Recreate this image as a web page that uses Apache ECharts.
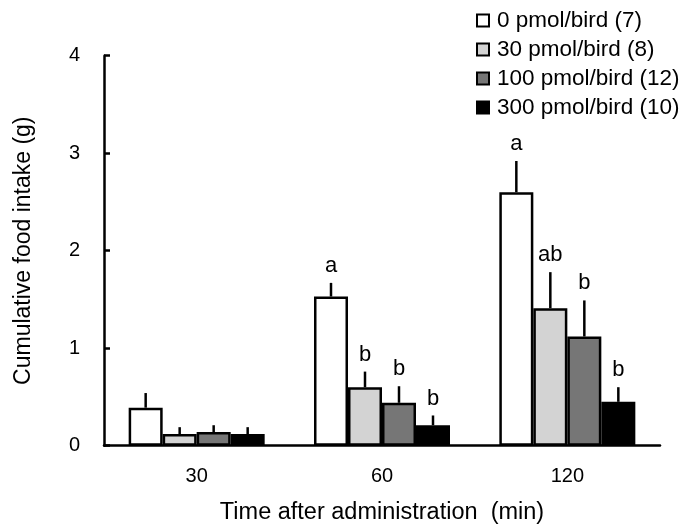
<!DOCTYPE html>
<html>
<head>
<meta charset="utf-8">
<script src="https://cdn.jsdelivr.net/npm/echarts@6/dist/echarts.min.js"></script>
<style>html,body{margin:0;padding:0;background:#fff;}#c{width:692px;height:524px;}</style>
</head>
<body>
<div id="c"></div>
<script>
var categories = ['30', '60', '120'];
var doseNames = ['0 pmol/bird (7)', '30 pmol/bird (8)', '100 pmol/bird (12)', '300 pmol/bird (10)'];
var means0 = [0.39, 1.53, 2.60];
var means30 = [0.12, 0.60, 1.41];
var means100 = [0.14, 0.44, 1.12];
var means300 = [0.12, 0.21, 0.45];
var se0 = [0.15, 0.14, 0.32];
var se30 = [0.07, 0.16, 0.37];
var se100 = [0.07, 0.17, 0.37];
var se300 = [0.07, 0.10, 0.15];
var letters0 = ['', 'a', 'a'];
var letters30 = ['', 'b', 'ab'];
var letters100 = ['', 'b', 'b'];
var letters300 = ['', 'b', 'b'];
var yTicks = [0, 1, 2, 3, 4];

var FONT = 'Liberation Sans, Arial, sans-serif';
var colors = ['#ffffff', '#d3d3d3', '#767676', '#000000'];
var allMeans = [means0, means30, means100, means300];
var allSe = [se0, se30, se100, se300];
var allLetters = [letters0, letters30, letters100, letters300];
var BAR_W = 34;

var series = [];
for (var i = 0; i < 4; i++) {
  series.push({
    type: 'bar',
    name: doseNames[i],
    data: allMeans[i],
    barWidth: BAR_W,
    barGap: '0%',
    itemStyle: { color: colors[i], borderColor: '#000', borderWidth: 2.5 },
    z: 2
  });
}
for (var j = 0; j < 4; j++) {
  (function (k) {
    var d = categories.map(function (c, idx) {
      return [idx, allMeans[k][idx], allMeans[k][idx] + allSe[k][idx]];
    });
    series.push({
      type: 'custom',
      name: 'err' + k,
      data: d,
      z: 3,
      renderItem: function (params, api) {
        var x = api.value(0);
        var base = api.coord([x, api.value(1)]);
        var top = api.coord([x, api.value(2)]);
        var cx = base[0] + (k - 1.5) * BAR_W;
        var letter = allLetters[k][params.dataIndex];
        var children = [{
          type: 'line',
          shape: { x1: cx, y1: base[1], x2: cx, y2: top[1] },
          style: { stroke: '#000', lineWidth: 2.5 }
        }];
        if (letter) {
          children.push({
            type: 'text',
            style: {
              text: letter, x: cx, y: top[1] - 6,
              textAlign: 'center', textVerticalAlign: 'bottom',
              font: '22px ' + FONT, fill: '#000'
            }
          });
        }
        return { type: 'group', children: children };
      }
    });
  })(j);
}

var chart = echarts.init(document.getElementById('c'), null, { renderer: 'canvas' });
chart.setOption({
  animation: false,
  backgroundColor: '#fff',
  textStyle: { fontFamily: FONT },
  grid: { left: 104, right: 32, top: 55.7, bottom: 78.3, containLabel: false, outerBoundsMode: 'none' },
  legend: {
    data: doseNames,
    orient: 'vertical',
    left: 471,
    top: 4,
    itemWidth: 12,
    itemHeight: 12,
    itemGap: 6,
    icon: 'rect',
    textStyle: { fontSize: 22.5, color: '#000', fontFamily: FONT, padding: [0, 0, 0, 3] }
  },
  xAxis: {
    type: 'category',
    data: categories,
    name: 'Time after administration  (min)',
    nameLocation: 'middle',
    nameGap: 55,
    nameTextStyle: { fontSize: 23.5, color: '#000', fontFamily: FONT },
    axisLine: { lineStyle: { color: '#000', width: 2.5 } },
    axisTick: { show: false },
    axisLabel: { fontSize: 20, color: '#000', margin: 21, fontFamily: FONT }
  },
  yAxis: {
    type: 'value',
    min: yTicks[0],
    max: yTicks[yTicks.length - 1],
    interval: 1,
    name: 'Cumulative food intake (g)',
    nameLocation: 'middle',
    nameGap: 69,
    nameRotate: 90,
    nameTextStyle: { fontSize: 23, color: '#000', fontFamily: FONT },
    axisLine: { show: true, lineStyle: { color: '#000', width: 2.5 } },
    axisTick: { show: true, inside: true, length: 6, lineStyle: { color: '#000', width: 2.5 } },
    axisLabel: { fontSize: 20, color: '#000', margin: 24, fontFamily: FONT },
    splitLine: { show: false }
  },
  series: series
});
</script>
</body>
</html>
